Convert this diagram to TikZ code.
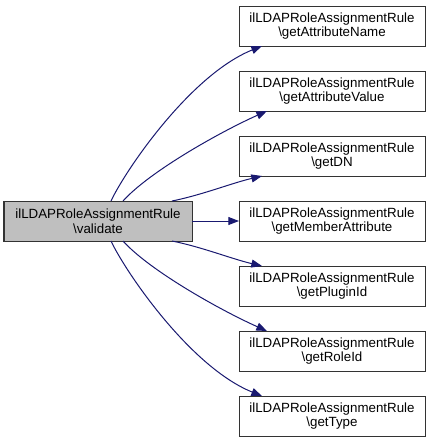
\documentclass[tikz,border=0pt]{standalone}
\usepackage{fontspec}
\setmainfont{Liberation Sans}
\usetikzlibrary{arrows.meta,positioning,calc}
\definecolor{edgeblue}{HTML}{191970}
\definecolor{rootgrey}{HTML}{BFBFBF}

\begin{document}
\begin{tikzpicture}[x=0.75pt, y=-0.75pt, ->, >={Triangle[length=8pt,width=6pt]},
  semithick, node distance=18.75pt]
\tikzset{every func/.style={draw=black!80, fill=white, line width=0.75pt,
    minimum width=139.5pt, minimum height=30pt, inner sep=0pt, outer sep=0pt,
    align=center, font=\fontsize{10}{11}\selectfont},
  root/.style={every func, fill=rootgrey, minimum width=141pt},
  call/.style={draw=edgeblue, line width=0.75pt}}
\useasboundingbox (0,0) rectangle (432,444);
\node[root]       (v)  at (98,221)  {ilLDAPRoleAssignmentRule\\\textbackslash validate};
\node[every func] (an) at (332,26)  {ilLDAPRoleAssignmentRule\\\textbackslash getAttributeName};
\node[every func] (av) [below=of an] {ilLDAPRoleAssignmentRule\\\textbackslash getAttributeValue};
\node[every func] (dn) [below=of av] {ilLDAPRoleAssignmentRule\\\textbackslash getDN};
\node[every func] (ma) [below=of dn] {ilLDAPRoleAssignmentRule\\\textbackslash getMemberAttribute};
\node[every func] (pi) [below=of ma] {ilLDAPRoleAssignmentRule\\\textbackslash getPluginId};
\node[every func] (ri) [below=of pi] {ilLDAPRoleAssignmentRule\\\textbackslash getRoleId};
\node[every func] (ty) [below=of ri] {ilLDAPRoleAssignmentRule\\\textbackslash getType};
% calls above the middle
\draw[call] ($(v.north)+(13,0)$) .. controls +(14,-30) and +(-72,29) .. ($(an.south)+(-70,0)$);
\draw[call] ($(v.north)+(25,0)$) .. controls +(27,-30) and +(-45,20) .. ($(av.south)+(-65,0)$);
\draw[call] ($(v.north)+(74,0)$) .. controls +(30,-6) and +(-30,7) .. ($(dn.south)+(-70,0)$);
\draw[call] (v.east) -- (ma.west);
% calls below the middle
\draw[call] ($(v.south)+(74,0)$) .. controls +(30,6) and +(-30,-7) .. ($(pi.north)+(-70,0)$);
\draw[call] ($(v.south)+(25,0)$) .. controls +(27,30) and +(-45,-20) .. ($(ri.north)+(-65,0)$);
\draw[call] ($(v.south)+(13,0)$) .. controls +(14,30) and +(-72,-29) .. ($(ty.north)+(-70,0)$);
\end{tikzpicture}
\end{document}
